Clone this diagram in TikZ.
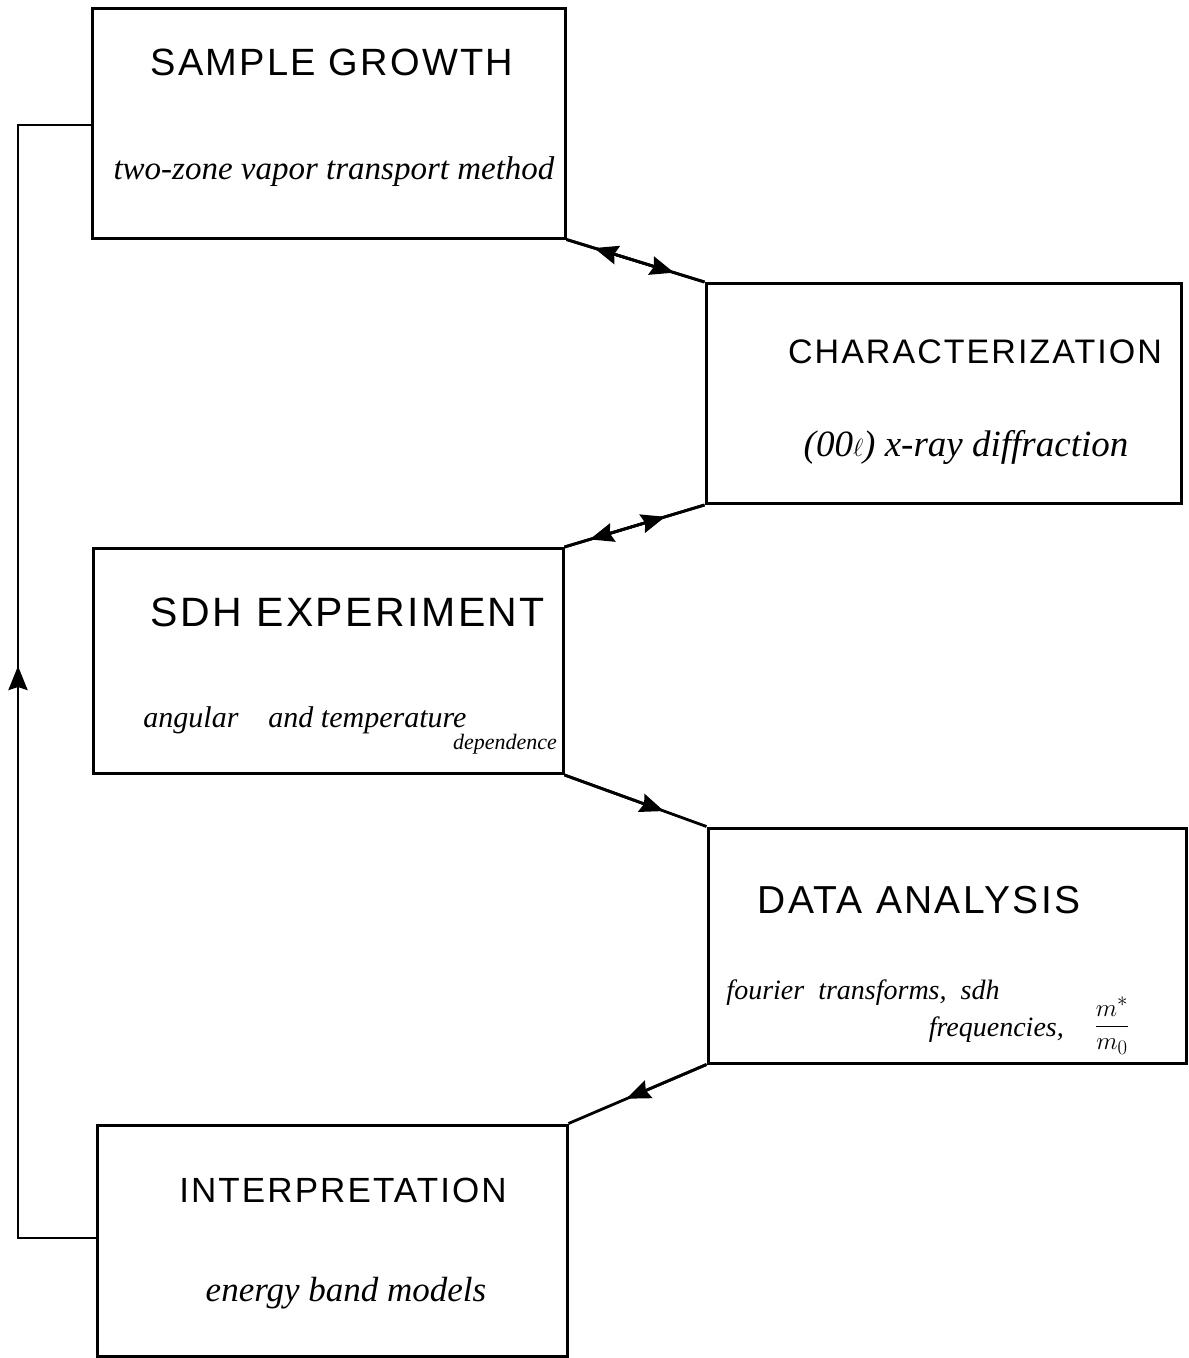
\documentclass[tikz,border=0pt]{standalone}
\usepackage{fontspec}
\setmainfont{Liberation Serif}
\newfontfamily\titlefont[LetterSpace=6]{Liberation Sans}
\usetikzlibrary{arrows.meta,calc}
\tikzset{
  box/.style={draw, line width=3pt, inner sep=0pt, rectangle},
  title/.style={font=\titlefont\fontsize{#1}{#1}\selectfont, inner sep=0pt},
  sub/.style={font=\itshape\fontsize{#1}{#1}\selectfont, inner sep=0pt},
  link/.style={line width=2.8pt},
  tip/.style={line width=2.8pt, -{Stealth[length=24pt,width=19pt,inset=3pt]}},
}
\begin{document}
\begin{tikzpicture}[x=1pt,y=-1pt]
\useasboundingbox[fill=white] (0,0) rectangle (1189,1358);
% boxes
\node[box, minimum width=473pt, minimum height=230pt] (sg) at (328.5,123) {};
\node[box, minimum width=475pt, minimum height=220pt] (ch) at (943.5,393.5) {};
\node[box, minimum width=470pt, minimum height=225pt] (sdh) at (328,661) {};
\node[box, minimum width=478pt, minimum height=235pt] (da) at (947,945.5) {};
\node[box, minimum width=470pt, minimum height=231pt] (ip) at (332,1240.5) {};
% texts
\node[title=38] (sgt) at (332,62) {SAMPLE GROWTH};
\node[sub=33] (sgs) at (334,172) {two-zone vapor transport method};
\node[title=34] (cht) at (975,352) {CHARACTERIZATION};
\node[sub=37] (chs) at (966,447) {(00$\ell$) x-ray diffraction};
\node[title=41] (sdht) at (348,612) {SDH EXPERIMENT};
\node[sub=30] (sdhs) at (305,720) {angular\quad and temperature};
\node[sub=22] (sdhs2) at (505,744) {dependence};
\node[title=39] (dat) at (919,900) {DATA ANALYSIS};
\node[sub=28] (das) at (863,993) {fourier\enspace transforms,\enspace sdh};
\node[sub=28, anchor=east] (das2) at (1064,1030) {frequencies,};
\node[sub=28] (das3) at (1112,1026) {$\displaystyle\frac{m^{*}}{m_{0}}$};
\node[title=35] (ipt) at (343,1190) {INTERPRETATION};
\node[sub=35] (ips) at (346,1293) {energy band models};
% connectors
\draw[link] (sg.south east) -- (ch.north west);
\draw[tip] (sg.south east) -- ($(sg.south east)!0.78!(ch.north west)$);
\draw[tip] (ch.north west) -- ($(ch.north west)!0.80!(sg.south east)$);
\draw[link] (sdh.north east) -- (ch.south west);
\draw[tip] (sdh.north east) -- ($(sdh.north east)!0.72!(ch.south west)$);
\draw[tip] (ch.south west) -- ($(ch.south west)!0.82!(sdh.north east)$);
\draw[link] (sdh.south east) -- (da.north west);
\draw[tip] (sdh.south east) -- ($(sdh.south east)!0.70!(da.north west)$);
\draw[link] (da.south west) -- (ip.north east);
\draw[tip] (da.south west) -- ($(da.south west)!0.58!(ip.north east)$);
\coordinate (lb) at (18,1238);
\coordinate (lt) at (18,125);
\coordinate (la) at (18,666);
\draw[link] (ip.west |- lb) -- (lb) -- (lt) -- (sg.west |- lt);
\draw[tip] (lb) -- (la);
\end{tikzpicture}
\end{document}
